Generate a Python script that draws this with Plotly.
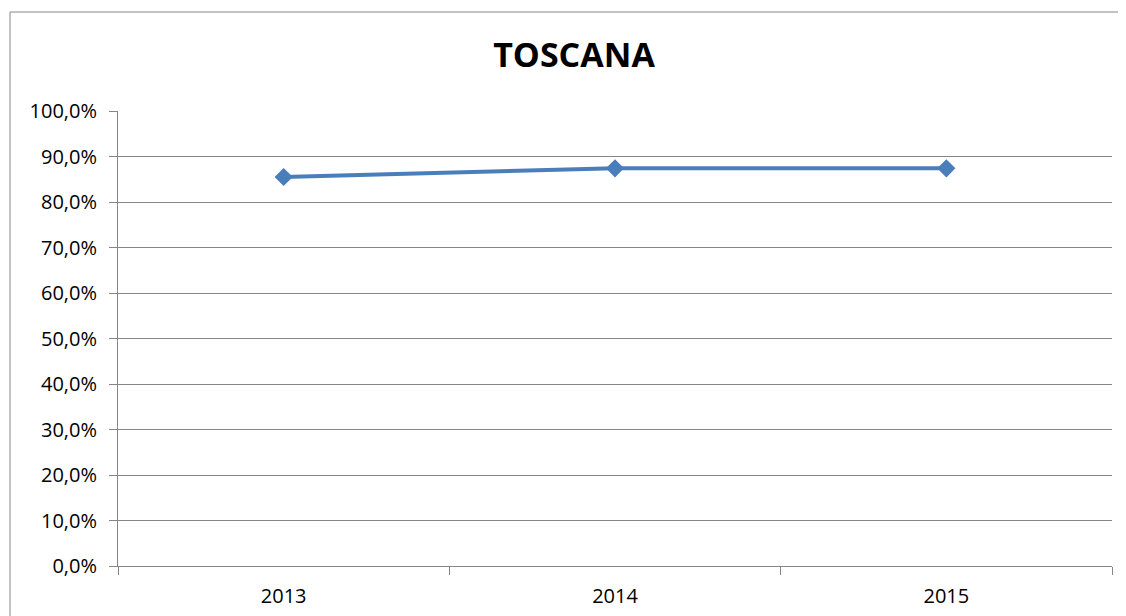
import plotly.graph_objects as go

categories = ["2013", "2014", "2015"]
values = [0.855, 0.874, 0.874]
title_text = "TOSCANA"
y_ticks = [i / 10 for i in range(11)]
y_labels = [f"{i*10},0%" for i in range(11)]

W, H = 1126, 616
OFF = 8  # default page body margin
L, T = 118 - OFF, 111 - OFF
R = W - (1112 - OFF)
B = H - (566 - OFF)
pw, ph = W - L - R, H - T - B

fig = go.Figure()
fig.add_trace(go.Scatter(
    x=categories, y=values, mode="lines+markers",
    line=dict(color="#4A7EBB", width=4),
    marker=dict(symbol="diamond", size=14, color="#4A7EBB"),
    showlegend=False,
))

grid = "#868686"
fig.update_layout(
    width=W, height=H,
    margin=dict(l=L, r=R, t=T, b=B),
    paper_bgcolor="white", plot_bgcolor="white",
    font=dict(family="Open Sans", size=20, color="black"),
    title=dict(text=f"<b>{title_text}</b>", x=(574 - OFF) / W, xanchor="center",
               y=1 - (55 - OFF) / H, yanchor="middle", yref="container",
               font=dict(family="Open Sans", size=34, color="black")),
    xaxis=dict(type="category", range=[-0.5, 2.5], tickson="boundaries",
               ticks="outside", ticklen=8, tickcolor=grid, showgrid=False,
               showline=True, linecolor=grid, linewidth=1, zeroline=False,
               tickfont=dict(size=20), ticklabelstandoff=12),
    yaxis=dict(range=[0, 1], tickvals=y_ticks, ticktext=y_labels,
               ticks="outside", ticklen=8, tickcolor=grid,
               showgrid=True, gridcolor=grid, gridwidth=1,
               showline=True, linecolor=grid, linewidth=1, zeroline=False,
               tickfont=dict(size=20), ticklabelstandoff=8),
)

# chart border (top and left edges; right/bottom edges lie outside the view)
bx0 = (10 - OFF - L) / pw
by1 = (H - B - (12 - OFF)) / ph
fig.add_shape(type="line", xref="paper", yref="paper",
              x0=bx0, x1=1.2, y0=by1, y1=by1,
              line=dict(color=grid, width=1), layer="below")
fig.add_shape(type="line", xref="paper", yref="paper",
              x0=bx0, x1=bx0, y0=by1, y1=-0.3,
              line=dict(color=grid, width=1), layer="below")

fig.write_html("out.html")
